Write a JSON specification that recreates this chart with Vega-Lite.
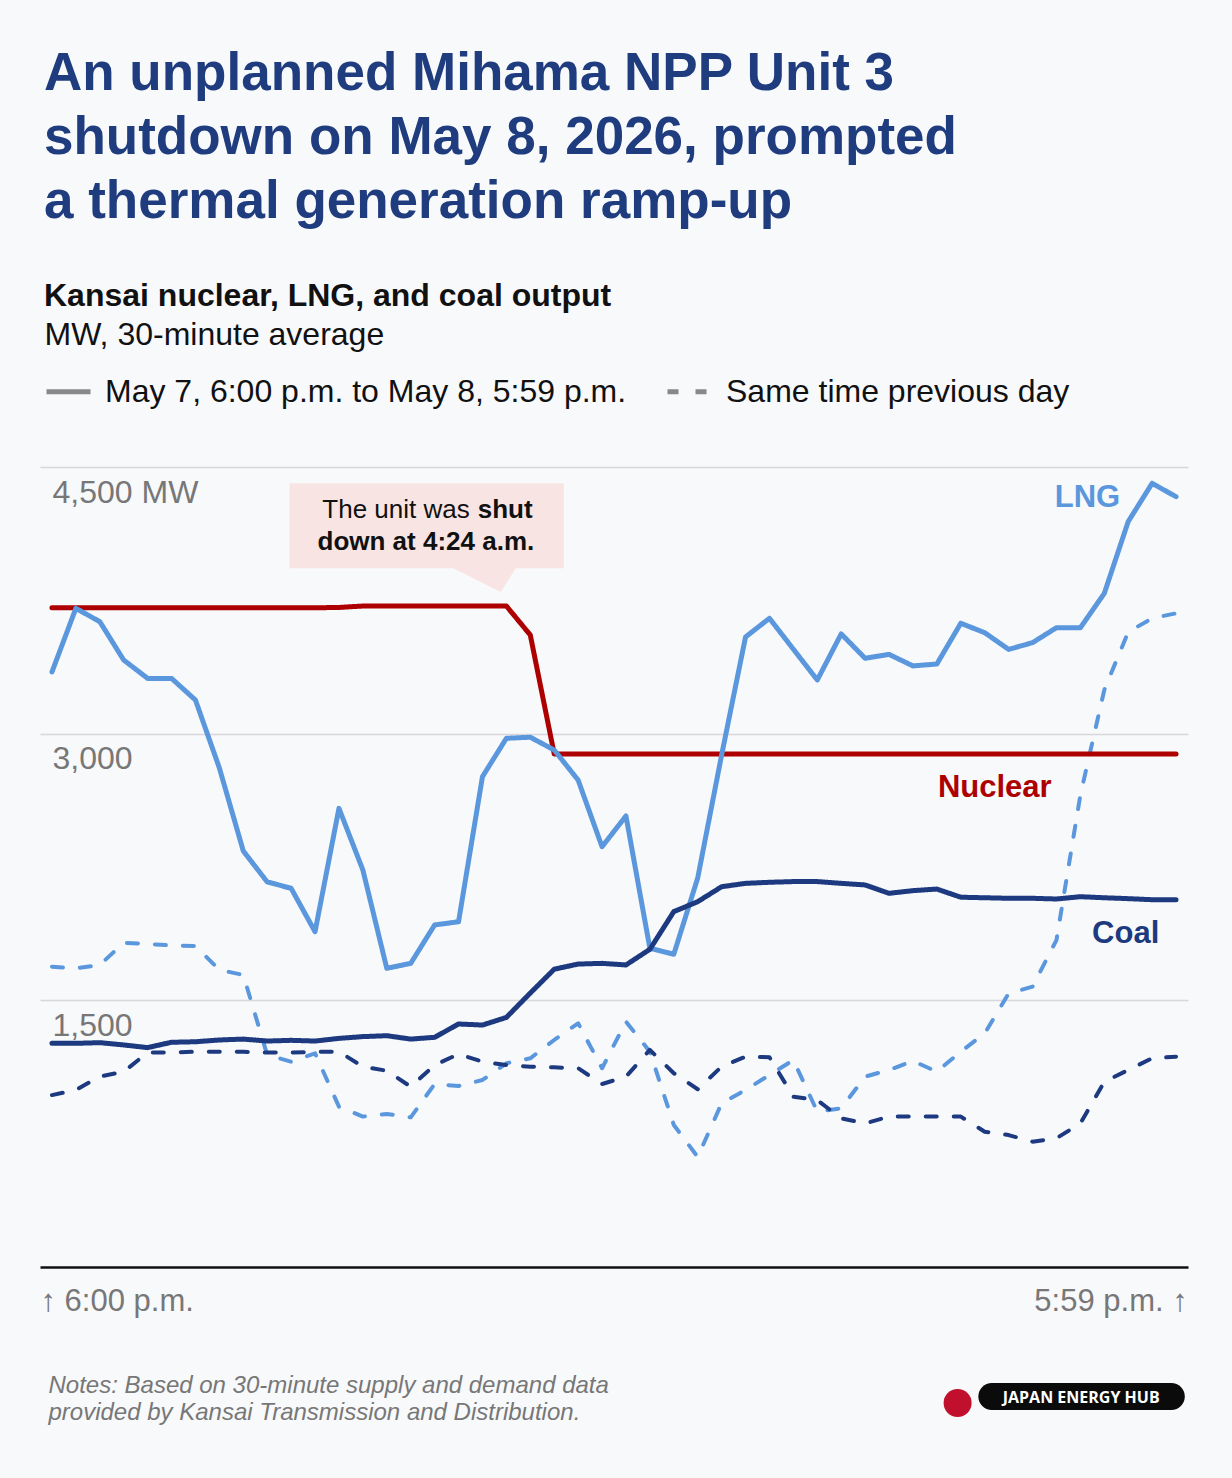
{
  "$schema": "https://vega.github.io/schema/vega-lite/v6.json",
  "width": 1148,
  "height": 800,
  "autosize": {"type": "none"},
  "padding": {"left": 40, "top": 467, "right": 44, "bottom": 211},
  "background": "#f8f9fb",
  "config": {"font": "Liberation Sans", "view": {"stroke": null}},
  "title": {
    "text": ["An unplanned Mihama NPP Unit 3", "shutdown on May 8, 2026, prompted", "a thermal generation ramp-up"],
    "subtitle": "Kansai nuclear, LNG, and coal output",
    "anchor": "start",
    "frame": "group",
    "dx": 4,
    "fontSize": 53,
    "fontWeight": "bold",
    "color": "#1e3c7e",
    "lineHeight": 64,
    "subtitleFontSize": 32,
    "subtitleFontWeight": "bold",
    "subtitleColor": "#111111",
    "subtitlePadding": 52,
    "offset": 6
  },
  "datasets": {
    "current": [
      {"time": "2026-05-07T18:15", "Nuclear": 3708, "LNG": 3347, "Coal": 1258},
      {"time": "2026-05-07T18:45", "Nuclear": 3708, "LNG": 3705, "Coal": 1258},
      {"time": "2026-05-07T19:15", "Nuclear": 3708, "LNG": 3630, "Coal": 1262},
      {"time": "2026-05-07T19:45", "Nuclear": 3708, "LNG": 3414, "Coal": 1249},
      {"time": "2026-05-07T20:15", "Nuclear": 3708, "LNG": 3311, "Coal": 1234},
      {"time": "2026-05-07T20:45", "Nuclear": 3708, "LNG": 3311, "Coal": 1264},
      {"time": "2026-05-07T21:15", "Nuclear": 3708, "LNG": 3189, "Coal": 1267},
      {"time": "2026-05-07T21:45", "Nuclear": 3708, "LNG": 2807, "Coal": 1277},
      {"time": "2026-05-07T22:15", "Nuclear": 3708, "LNG": 2340, "Coal": 1282},
      {"time": "2026-05-07T22:45", "Nuclear": 3708, "LNG": 2166, "Coal": 1271},
      {"time": "2026-05-07T23:15", "Nuclear": 3708, "LNG": 2130, "Coal": 1275},
      {"time": "2026-05-07T23:45", "Nuclear": 3708, "LNG": 1886, "Coal": 1271},
      {"time": "2026-05-08T00:15", "Nuclear": 3710, "LNG": 2580, "Coal": 1286},
      {"time": "2026-05-08T00:45", "Nuclear": 3718, "LNG": 2233, "Coal": 1296},
      {"time": "2026-05-08T01:15", "Nuclear": 3718, "LNG": 1680, "Coal": 1301},
      {"time": "2026-05-08T01:45", "Nuclear": 3718, "LNG": 1708, "Coal": 1282},
      {"time": "2026-05-08T02:15", "Nuclear": 3718, "LNG": 1924, "Coal": 1292},
      {"time": "2026-05-08T02:45", "Nuclear": 3718, "LNG": 1942, "Coal": 1367},
      {"time": "2026-05-08T03:15", "Nuclear": 3718, "LNG": 2758, "Coal": 1361},
      {"time": "2026-05-08T03:45", "Nuclear": 3718, "LNG": 2974, "Coal": 1404},
      {"time": "2026-05-08T04:15", "Nuclear": 3555, "LNG": 2980, "Coal": 1541},
      {"time": "2026-05-08T04:45", "Nuclear": 2886, "LNG": 2908, "Coal": 1675},
      {"time": "2026-05-08T05:15", "Nuclear": 2886, "LNG": 2739, "Coal": 1704},
      {"time": "2026-05-08T05:45", "Nuclear": 2886, "LNG": 2364, "Coal": 1708},
      {"time": "2026-05-08T06:15", "Nuclear": 2886, "LNG": 2537, "Coal": 1699},
      {"time": "2026-05-08T06:45", "Nuclear": 2886, "LNG": 1793, "Coal": 1787},
      {"time": "2026-05-08T07:15", "Nuclear": 2886, "LNG": 1759, "Coal": 1999},
      {"time": "2026-05-08T07:45", "Nuclear": 2886, "LNG": 2188, "Coal": 2055},
      {"time": "2026-05-08T08:15", "Nuclear": 2886, "LNG": 2880, "Coal": 2139},
      {"time": "2026-05-08T08:45", "Nuclear": 2886, "LNG": 3544, "Coal": 2158},
      {"time": "2026-05-08T09:15", "Nuclear": 2886, "LNG": 3649, "Coal": 2164},
      {"time": "2026-05-08T09:45", "Nuclear": 2886, "LNG": 3475, "Coal": 2168},
      {"time": "2026-05-08T10:15", "Nuclear": 2886, "LNG": 3302, "Coal": 2168},
      {"time": "2026-05-08T10:45", "Nuclear": 2886, "LNG": 3561, "Coal": 2158},
      {"time": "2026-05-08T11:15", "Nuclear": 2886, "LNG": 3424, "Coal": 2149},
      {"time": "2026-05-08T11:45", "Nuclear": 2886, "LNG": 3446, "Coal": 2102},
      {"time": "2026-05-08T12:15", "Nuclear": 2886, "LNG": 3381, "Coal": 2117},
      {"time": "2026-05-08T12:45", "Nuclear": 2886, "LNG": 3392, "Coal": 2126},
      {"time": "2026-05-08T13:15", "Nuclear": 2886, "LNG": 3621, "Coal": 2080},
      {"time": "2026-05-08T13:45", "Nuclear": 2886, "LNG": 3568, "Coal": 2077},
      {"time": "2026-05-08T14:15", "Nuclear": 2886, "LNG": 3474, "Coal": 2074},
      {"time": "2026-05-08T14:45", "Nuclear": 2886, "LNG": 3512, "Coal": 2074},
      {"time": "2026-05-08T15:15", "Nuclear": 2886, "LNG": 3596, "Coal": 2070},
      {"time": "2026-05-08T15:45", "Nuclear": 2886, "LNG": 3596, "Coal": 2083},
      {"time": "2026-05-08T16:15", "Nuclear": 2886, "LNG": 3789, "Coal": 2077},
      {"time": "2026-05-08T16:45", "Nuclear": 2886, "LNG": 4193, "Coal": 2072},
      {"time": "2026-05-08T17:15", "Nuclear": 2886, "LNG": 4408, "Coal": 2066},
      {"time": "2026-05-08T17:45", "Nuclear": 2886, "LNG": 4333, "Coal": 2066}
    ],
    "previous": [
      {"time": "2026-05-07T18:15", "LNG": 1689, "Coal": 967},
      {"time": "2026-05-07T18:45", "LNG": 1680, "Coal": 996},
      {"time": "2026-05-07T19:15", "LNG": 1699, "Coal": 1071},
      {"time": "2026-05-07T19:45", "LNG": 1824, "Coal": 1099},
      {"time": "2026-05-07T20:15", "LNG": 1817, "Coal": 1206},
      {"time": "2026-05-07T20:45", "LNG": 1809, "Coal": 1206},
      {"time": "2026-05-07T21:15", "LNG": 1806, "Coal": 1211},
      {"time": "2026-05-07T21:45", "LNG": 1671, "Coal": 1211},
      {"time": "2026-05-07T22:15", "LNG": 1643, "Coal": 1211},
      {"time": "2026-05-07T22:45", "LNG": 1193, "Coal": 1206},
      {"time": "2026-05-07T23:15", "LNG": 1155, "Coal": 1206},
      {"time": "2026-05-07T23:45", "LNG": 1202, "Coal": 1211},
      {"time": "2026-05-08T00:15", "LNG": 902, "Coal": 1211},
      {"time": "2026-05-08T00:45", "LNG": 846, "Coal": 1127},
      {"time": "2026-05-08T01:15", "LNG": 861, "Coal": 1104},
      {"time": "2026-05-08T01:45", "LNG": 842, "Coal": 1014},
      {"time": "2026-05-08T02:15", "LNG": 1029, "Coal": 1136},
      {"time": "2026-05-08T02:45", "LNG": 1018, "Coal": 1198},
      {"time": "2026-05-08T03:15", "LNG": 1052, "Coal": 1155},
      {"time": "2026-05-08T03:45", "LNG": 1146, "Coal": 1136},
      {"time": "2026-05-08T04:15", "LNG": 1174, "Coal": 1127},
      {"time": "2026-05-08T04:45", "LNG": 1277, "Coal": 1123},
      {"time": "2026-05-08T05:15", "LNG": 1371, "Coal": 1118},
      {"time": "2026-05-08T05:45", "LNG": 1118, "Coal": 1029},
      {"time": "2026-05-08T06:15", "LNG": 1380, "Coal": 1071},
      {"time": "2026-05-08T06:45", "LNG": 1211, "Coal": 1221},
      {"time": "2026-05-08T07:15", "LNG": 799, "Coal": 1090},
      {"time": "2026-05-08T07:45", "LNG": 619, "Coal": 1000},
      {"time": "2026-05-08T08:15", "LNG": 921, "Coal": 1127},
      {"time": "2026-05-08T08:45", "LNG": 996, "Coal": 1183},
      {"time": "2026-05-08T09:15", "LNG": 1080, "Coal": 1180},
      {"time": "2026-05-08T09:45", "LNG": 1164, "Coal": 958},
      {"time": "2026-05-08T10:15", "LNG": 874, "Coal": 939},
      {"time": "2026-05-08T10:45", "LNG": 893, "Coal": 836},
      {"time": "2026-05-08T11:15", "LNG": 1071, "Coal": 808},
      {"time": "2026-05-08T11:45", "LNG": 1108, "Coal": 846},
      {"time": "2026-05-08T12:15", "LNG": 1159, "Coal": 846},
      {"time": "2026-05-08T12:45", "LNG": 1099, "Coal": 846},
      {"time": "2026-05-08T13:15", "LNG": 1211, "Coal": 846},
      {"time": "2026-05-08T13:45", "LNG": 1314, "Coal": 761},
      {"time": "2026-05-08T14:15", "LNG": 1539, "Coal": 742},
      {"time": "2026-05-08T14:45", "LNG": 1577, "Coal": 705},
      {"time": "2026-05-08T15:15", "LNG": 1839, "Coal": 724},
      {"time": "2026-05-08T15:45", "LNG": 2655, "Coal": 808},
      {"time": "2026-05-08T16:15", "LNG": 3246, "Coal": 1042},
      {"time": "2026-05-08T16:45", "LNG": 3572, "Coal": 1108},
      {"time": "2026-05-08T17:15", "LNG": 3649, "Coal": 1174},
      {"time": "2026-05-08T17:45", "LNG": 3677, "Coal": 1183}
    ]
  },
  "layer": [
    {
      "data": {"name": "previous"},
      "transform": [{"fold": ["LNG", "Coal"], "as": ["source", "mw"]}],
      "mark": {"type": "line", "strokeWidth": 4, "strokeCap": "round", "strokeJoin": "round"},
      "encoding": {
        "x": {
          "field": "time",
          "type": "temporal",
          "scale": {
            "domain": [
              {"year": 2026, "month": 5, "date": 7, "hours": 18, "minutes": 0},
              {"year": 2026, "month": 5, "date": 8, "hours": 18, "minutes": 0}
            ],
            "nice": false
          },
          "axis": {
            "values": [
              {"year": 2026, "month": 5, "date": 7, "hours": 18, "minutes": 0},
              {"year": 2026, "month": 5, "date": 8, "hours": 17, "minutes": 59}
            ],
            "labelExpr": "hours(datum.value) == 18 ? '↑ 6:00 p.m.' : '5:59 p.m. ↑'",
            "labelFlush": 5,
            "labelOverlap": false,
            "domain": true,
            "domainColor": "#111111",
            "domainWidth": 2.5,
            "ticks": false,
            "grid": false,
            "labelFontSize": 31,
            "labelColor": "#777777",
            "labelPadding": 19,
            "title": ["Notes: Based on 30-minute supply and demand data", "provided by Kansai Transmission and Distribution."],
            "titleX": 8,
            "titleY": 125,
            "titleAlign": "left",
            "titleAnchor": "start",
            "titleBaseline": "alphabetic",
            "titleFontSize": 24,
            "titleFontStyle": "italic",
            "titleFontWeight": "normal",
            "titleColor": "#777777",
            "titleLineHeight": 27
          }
        },
        "y": {
          "field": "mw",
          "type": "quantitative",
          "scale": {"domain": [0, 4500], "nice": false, "zero": false},
          "axis": {
            "values": [1500, 3000, 4500],
            "grid": true,
            "gridColor": "#d8d8dc",
            "gridWidth": 1.5,
            "domain": false,
            "ticks": false,
            "labelAlign": "left",
            "labelBaseline": "top",
            "labelPadding": -12,
            "labelOffset": 10,
            "labelFontSize": 32,
            "labelColor": "#777777",
            "labelExpr": "datum.value == 4500 ? '4,500 MW' : format(datum.value, ',')",
            "title": "MW, 30-minute average",
            "titleAngle": 0,
            "titleX": 4,
            "titleY": -123,
            "titleAlign": "left",
            "titleBaseline": "alphabetic",
            "titleFontSize": 32,
            "titleFontWeight": "normal",
            "titleColor": "#111111"
          }
        },
        "color": {
          "field": "source",
          "type": "nominal",
          "scale": {"domain": ["Nuclear", "LNG", "Coal"], "range": ["#ad0000", "#5b97dd", "#1d3a80"]},
          "legend": null
        },
        "strokeDash": {
          "datum": "Same time previous day",
          "scale": {
            "domain": ["May 7, 6:00 p.m. to May 8, 5:59 p.m.", "Same time previous day"],
            "range": [[1, 0], [11, 17]]
          },
          "legend": {
            "orient": "none",
            "legendX": 4,
            "legendY": -100,
            "direction": "horizontal",
            "title": null,
            "symbolType": "stroke",
            "symbolStrokeColor": "#888888",
            "symbolStrokeWidth": 5,
            "symbolSize": 1936,
            "labelFontSize": 32,
            "labelColor": "#111111",
            "labelLimit": 1000,
            "labelOffset": 12,
            "columnPadding": 30,
            "padding": 0
          }
        }
      }
    },
    {
      "data": {"name": "current"},
      "transform": [{"fold": ["Nuclear", "LNG", "Coal"], "as": ["source", "mw"]}],
      "mark": {"type": "line", "strokeWidth": 5, "strokeCap": "round", "strokeJoin": "round"},
      "encoding": {
        "x": {"field": "time", "type": "temporal"},
        "y": {"field": "mw", "type": "quantitative"},
        "color": {"field": "source", "type": "nominal"},
        "strokeDash": {"datum": "May 7, 6:00 p.m. to May 8, 5:59 p.m."}
      }
    },
    {
      "data": {"values": [{}]},
      "mark": {"type": "rect", "color": "#f8e5e3"},
      "encoding": {
        "x": {"datum": {"year": 2026, "month": 5, "date": 7, "hours": 23, "minutes": 13}, "type": "temporal"},
        "x2": {"datum": {"year": 2026, "month": 5, "date": 8, "hours": 4, "minutes": 57}},
        "y": {"datum": 4408, "type": "quantitative"},
        "y2": {"datum": 3930}
      }
    },
    {
      "data": {"values": [{}]},
      "mark": {"type": "point", "shape": "M-1,-0.38L1,-0.38L0.513,0.38Z", "size": 5041, "filled": true, "color": "#f8e5e3", "opacity": 1, "strokeWidth": 0},
      "encoding": {
        "x": {"datum": {"year": 2026, "month": 5, "date": 8, "hours": 3, "minutes": 15}, "type": "temporal"},
        "y": {"datum": 3873, "type": "quantitative"}
      }
    },
    {
      "data": {"values": [{}]},
      "mark": {"type": "text", "text": "The unit was", "align": "right", "baseline": "alphabetic", "fontSize": 26, "color": "#111111"},
      "encoding": {
        "x": {"datum": {"year": 2026, "month": 5, "date": 8, "hours": 2, "minutes": 59}, "type": "temporal"},
        "y": {"datum": 4213, "type": "quantitative"}
      }
    },
    {
      "data": {"values": [{}]},
      "mark": {"type": "text", "text": "shut", "align": "left", "baseline": "alphabetic", "fontSize": 26, "fontWeight": "bold", "color": "#111111"},
      "encoding": {
        "x": {"datum": {"year": 2026, "month": 5, "date": 8, "hours": 3, "minutes": 9}, "type": "temporal"},
        "y": {"datum": 4213, "type": "quantitative"}
      }
    },
    {
      "data": {"values": [{}]},
      "mark": {"type": "text", "text": "down at 4:24 a.m.", "align": "center", "baseline": "alphabetic", "fontSize": 26, "fontWeight": "bold", "color": "#111111"},
      "encoding": {
        "x": {"datum": {"year": 2026, "month": 5, "date": 8, "hours": 2, "minutes": 4}, "type": "temporal"},
        "y": {"datum": 4033, "type": "quantitative"}
      }
    },
    {
      "data": {"values": [{}]},
      "mark": {"type": "text", "text": "LNG", "align": "right", "baseline": "alphabetic", "fontSize": 31, "fontWeight": "bold", "color": "#5b97dd"},
      "encoding": {
        "x": {"datum": {"year": 2026, "month": 5, "date": 8, "hours": 16, "minutes": 35}, "type": "temporal"},
        "y": {"datum": 4276, "type": "quantitative"}
      }
    },
    {
      "data": {"values": [{}]},
      "mark": {"type": "text", "text": "Nuclear", "align": "right", "baseline": "alphabetic", "fontSize": 31, "fontWeight": "bold", "color": "#ad0000"},
      "encoding": {
        "x": {"datum": {"year": 2026, "month": 5, "date": 8, "hours": 15, "minutes": 9}, "type": "temporal"},
        "y": {"datum": 2644, "type": "quantitative"}
      }
    },
    {
      "data": {"values": [{}]},
      "mark": {"type": "text", "text": "Coal", "align": "right", "baseline": "alphabetic", "fontSize": 31, "fontWeight": "bold", "color": "#1d3a80"},
      "encoding": {
        "x": {"datum": {"year": 2026, "month": 5, "date": 8, "hours": 17, "minutes": 24}, "type": "temporal"},
        "y": {"datum": 1822, "type": "quantitative"}
      }
    },
    {
      "data": {"values": [{}]},
      "mark": {"type": "rect", "color": "#0b0b0b", "cornerRadius": 14},
      "encoding": {
        "x": {"datum": {"year": 2026, "month": 5, "date": 8, "hours": 13, "minutes": 37}, "type": "temporal"},
        "x2": {"datum": {"year": 2026, "month": 5, "date": 8, "hours": 17, "minutes": 56}},
        "y": {"datum": -652, "type": "quantitative"},
        "y2": {"datum": -804}
      }
    },
    {
      "data": {"values": [{}]},
      "mark": {"type": "text", "text": "JAPAN ENERGY HUB", "align": "center", "baseline": "alphabetic", "font": "Open Sans", "fontSize": 16, "fontWeight": "bold", "color": "#ffffff"},
      "encoding": {
        "x": {"datum": {"year": 2026, "month": 5, "date": 8, "hours": 15, "minutes": 46}, "type": "temporal"},
        "y": {"datum": -765, "type": "quantitative"}
      }
    },
    {
      "data": {"values": [{}]},
      "mark": {"type": "point", "shape": "circle", "size": 784, "filled": true, "color": "#c0102e", "opacity": 1, "strokeWidth": 0},
      "encoding": {
        "x": {"datum": {"year": 2026, "month": 5, "date": 8, "hours": 13, "minutes": 11}, "type": "temporal"},
        "y": {"datum": -765, "type": "quantitative"}
      }
    }
  ]
}
